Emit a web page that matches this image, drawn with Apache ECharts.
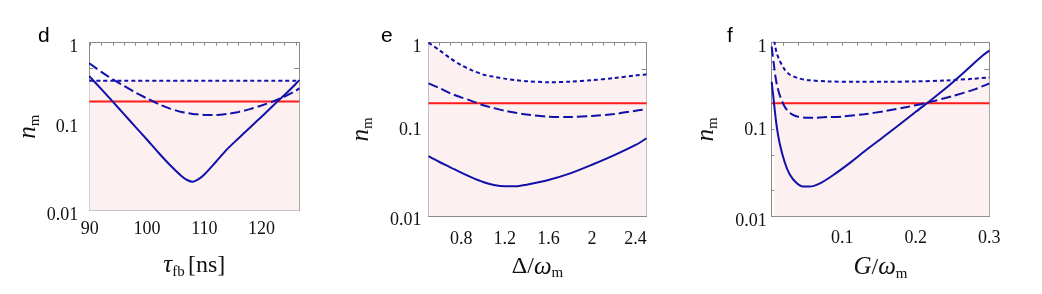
<!DOCTYPE html>
<html><head><meta charset="utf-8">
<script src="https://cdn.jsdelivr.net/npm/echarts@6/dist/echarts.min.js"></script>
<style>html,body{margin:0;padding:0;background:#fff}#c{width:1042px;height:294px}</style>
</head><body><div id="c"></div>
<script>
// ---------- data ----------
const threshold = 0.2;
const yLabelVals = [0.01, 0.1, 1];
const yTickVals = [0.01, 0.02, 0.05, 0.1, 0.2, 0.5, 1];

// panel d : tau_fb [ns]
const dX = [89.9, 92, 94, 96, 98, 100, 102, 104, 106, 107, 108, 109, 110, 112, 114, 116, 118, 120, 122, 124, 126, 126.6];
const dSolid = [0.40, 0.28, 0.199, 0.14, 0.099, 0.07, 0.049, 0.035, 0.0259, 0.0232, 0.0221, 0.0238, 0.027, 0.038, 0.054, 0.073, 0.098, 0.131, 0.178, 0.238, 0.325, 0.358];
const dDashed = [0.57, 0.45, 0.366, 0.305, 0.254, 0.217, 0.186, 0.164, 0.15, 0.146, 0.142, 0.14, 0.138, 0.138, 0.142, 0.15, 0.162, 0.179, 0.2, 0.228, 0.268, 0.286];
const dDotted = [0.352, 0.352, 0.352, 0.352, 0.352, 0.352, 0.352, 0.352, 0.352, 0.352, 0.352, 0.352, 0.352, 0.352, 0.352, 0.352, 0.352, 0.352, 0.352, 0.352, 0.352, 0.352];
const dXLabels = [90, 100, 110, 120];
const dXTicks = [90, 92, 94, 96, 98, 100, 102, 104, 106, 108, 110, 112, 114, 116, 118, 120, 122, 124, 126];

// panel e : Delta / omega_m
const eX = [0.5, 0.6, 0.7, 0.8, 0.9, 1.0, 1.1, 1.2, 1.3, 1.4, 1.6, 1.8, 2.0, 2.2, 2.4, 2.5];
const eSolid = [0.049, 0.042, 0.0365, 0.0316, 0.0277, 0.0247, 0.0228, 0.022, 0.022, 0.023, 0.026, 0.031, 0.039, 0.05, 0.066, 0.079];
const eDashed = [0.34, 0.30, 0.26, 0.234, 0.212, 0.19, 0.176, 0.164, 0.155, 0.148, 0.14, 0.139, 0.143, 0.15, 0.164, 0.17];
const eDotted = [1.0, 0.82, 0.66, 0.55, 0.48, 0.43, 0.405, 0.385, 0.37, 0.36, 0.35, 0.355, 0.37, 0.39, 0.42, 0.43];
const eXLabels = [0.8, 1.2, 1.6, 2, 2.4];
const eXTicks = [0.5, 0.6, 0.7, 0.8, 0.9, 1.0, 1.1, 1.2, 1.3, 1.4, 1.5, 1.6, 1.7, 1.8, 1.9, 2.0, 2.1, 2.2, 2.3, 2.4, 2.5];

// panel f : G / omega_m
const fXSolid = [0.004, 0.0067, 0.0103, 0.0149, 0.0217, 0.0284, 0.0375, 0.0465, 0.0556, 0.069, 0.0873, 0.11, 0.1325, 0.155, 0.178, 0.2, 0.223, 0.246, 0.268, 0.291, 0.3];
const fSolid = [0.355, 0.218, 0.117, 0.069, 0.042, 0.0305, 0.0243, 0.022, 0.022, 0.0238, 0.0297, 0.041, 0.058, 0.081, 0.114, 0.16, 0.226, 0.325, 0.475, 0.71, 0.81];
const fXDashed = [0.004, 0.0067, 0.0103, 0.0149, 0.0217, 0.0284, 0.0375, 0.05, 0.065, 0.08, 0.1, 0.13, 0.16, 0.19, 0.22, 0.25, 0.28, 0.3];
const fDashed = [0.9, 0.58, 0.355, 0.249, 0.183, 0.156, 0.142, 0.137, 0.137, 0.139, 0.141, 0.15, 0.164, 0.183, 0.208, 0.243, 0.29, 0.34];
const fXDotted = [0.0075, 0.0103, 0.0149, 0.0217, 0.0284, 0.04, 0.055, 0.08, 0.12, 0.16, 0.2, 0.24, 0.28, 0.3];
const fDotted = [1.05, 0.79, 0.62, 0.49, 0.43, 0.39, 0.37, 0.358, 0.355, 0.355, 0.358, 0.367, 0.385, 0.398];
const fXLabels = [0.1, 0.2, 0.3];
const fXTicks = [0.02, 0.04, 0.06, 0.08, 0.1, 0.12, 0.14, 0.16, 0.18, 0.2, 0.22, 0.24, 0.26, 0.28, 0.3];

// ---------- build ----------
const zip = (xs, ys) => xs.map((x, i) => [x, ys[i]]);
const BLUE = '#1010aa', RED = '#ff1a1a', FRAME = '#8a8a8a', PINK = '#fdf0f0';
const SERIF = '"Liberation Serif", "DejaVu Serif", serif';
const nameRich = {
  i: {fontFamily: SERIF, fontStyle: 'italic', fontSize: 25, color: '#111', lineHeight: 28},
  r: {fontFamily: SERIF, fontSize: 24, color: '#111', lineHeight: 28},
  s: {fontFamily: SERIF, fontSize: 15, color: '#111', lineHeight: 28, verticalAlign: 'bottom', padding: [10, 0, 0, 0]}
};
const labRich = {
  lo: {fontFamily: SERIF, fontSize: 18, color: '#111', padding: [9, 0, 0, 0]},
  mid: {fontFamily: SERIF, fontSize: 18, color: '#111', padding: [2, 0, 0, 0]}
};
const yFmt = v => {
  const s = String(+(+v).toPrecision(3));
  return (s === '0.1') ? '{mid|' + s + '}' : '{lo|' + s + '}';
};

const panels = [
  {letter: 'd', grid: {left: 89.3, top: 42.7, width: 210, height: 168}, xmin: 89.9, xmax: 126.6,
   xLabels: dXLabels, xTicks: dXTicks, xName: '{i|τ}{s|fb} {r|[ns]}', xLabMargin: 10, xNameGap: 41,
   yLabMargin: 11, yNameGap: 46, letterX: 38,
   solid: zip(dX, dSolid), dashed: zip(dX, dDashed), dotted: zip(dX, dDotted)},
  {letter: 'e', grid: {left: 428.5, top: 42.7, width: 218, height: 173.3}, xmin: 0.5, xmax: 2.5,
   xLabels: eXLabels, xTicks: eXTicks, xName: '{r|Δ/}{i|ω}{s|m}', xLabMargin: 14, xNameGap: 37,
   yLabMargin: 7, yNameGap: 53, letterX: 381,
   solid: zip(eX, eSolid), dashed: zip(eX, eDashed), dotted: zip(eX, eDotted)},
  {letter: 'f', grid: {left: 771.7, top: 42.7, width: 217.6, height: 173.6}, xmin: 0.004, xmax: 0.3,
   xLabels: fXLabels, xTicks: fXTicks, xName: '{i|G}{r|/}{i|ω}{s|m}', xLabMargin: 13, xNameGap: 37,
   yLabMargin: 5, yNameGap: 51, letterX: 727,
   solid: zip(fXSolid, fSolid), dashed: zip(fXDashed, fDashed), dotted: zip(fXDotted, fDotted)}
];

const grid = [], xAxis = [], yAxis = [], series = [], graphic = [];
panels.forEach((p, k) => {
  grid.push(p.grid);
  const xi = xAxis.length, yi = yAxis.length;
  xAxis.push({type: 'value', gridIndex: k, min: p.xmin, max: p.xmax, position: 'bottom',
    axisLine: {show: true, lineStyle: {color: FRAME, width: 1}},
    axisTick: {show: true, inside: true, length: 5, lineStyle: {color: FRAME}, customValues: p.xLabels},
    axisLabel: {show: true, customValues: p.xLabels, margin: p.xLabMargin, fontFamily: SERIF, fontSize: 18, color: '#111'},
    splitLine: {show: false},
    name: p.xName, nameLocation: 'middle', nameGap: p.xNameGap, nameTextStyle: {rich: nameRich}});
  xAxis.push({type: 'value', gridIndex: k, min: p.xmin, max: p.xmax, position: 'top',
    axisLine: {show: true, lineStyle: {color: FRAME, width: 1}},
    axisTick: {show: true, inside: true, length: 3, lineStyle: {color: FRAME}, customValues: p.xTicks},
    axisLabel: {show: false}, splitLine: {show: false}});
  yAxis.push({type: 'log', logBase: 10, gridIndex: k, min: 0.01, max: 1, position: 'left',
    axisLine: {show: true, lineStyle: {color: FRAME, width: 1}},
    axisTick: {show: true, inside: true, length: 4, lineStyle: {color: FRAME}, customValues: yTickVals},
    axisLabel: {show: true, customValues: yLabelVals, margin: p.yLabMargin, fontFamily: SERIF, fontSize: 18, color: '#111',
      formatter: yFmt, rich: labRich},
    splitLine: {show: false},
    name: '{i|n}{s|m}', nameLocation: 'middle', nameRotate: 90, nameGap: p.yNameGap, nameTextStyle: {rich: nameRich}});
  yAxis.push({type: 'log', logBase: 10, gridIndex: k, min: 0.01, max: 1, position: 'right',
    axisLine: {show: true, lineStyle: {color: FRAME, width: 1}},
    axisTick: {show: true, inside: true, length: 5, lineStyle: {color: FRAME}, customValues: yTickVals},
    axisLabel: {show: false}, splitLine: {show: false}});
  const base = {type: 'line', xAxisIndex: xi, yAxisIndex: yi, showSymbol: false, symbol: 'none', smooth: 0.3,
    clip: true, silent: true, animation: false};
  series.push(Object.assign({}, base, {data: p.dotted, lineStyle: {width: 0, opacity: 0},
    areaStyle: {color: PINK, origin: 'start', opacity: 1}, z: 1}));
  series.push(Object.assign({}, base, {data: [[p.xmin, threshold], [p.xmax, threshold]], smooth: false,
    lineStyle: {color: RED, width: 2}, z: 3}));
  series.push(Object.assign({}, base, {data: p.dashed, lineStyle: {color: BLUE, width: 2, type: [10, 4]}, z: 4}));
  series.push(Object.assign({}, base, {data: p.solid, lineStyle: {color: BLUE, width: 2}, z: 5}));
  series.push(Object.assign({}, base, {data: p.dotted, lineStyle: {color: BLUE, width: 2, type: [4, 3]}, z: 4}));
  graphic.push({type: 'text', left: p.letterX, top: 26, style: {text: p.letter, font: '21px "Liberation Sans", Arial, sans-serif', fill: '#000'}});
});

const chart = echarts.init(document.getElementById('c'), null, {renderer: 'canvas'});
chart.setOption({animation: false, backgroundColor: '#fff', grid, xAxis, yAxis, series, graphic});
</script></body></html>
